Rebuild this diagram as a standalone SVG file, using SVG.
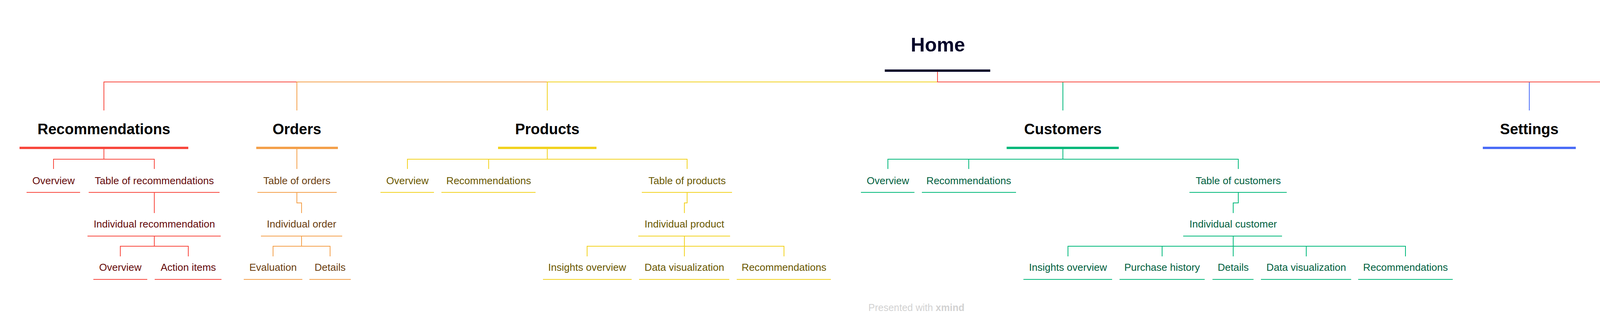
<svg xmlns="http://www.w3.org/2000/svg" width="4688" height="838" viewBox="0 0 4688 838">
<style>
  text { font-family: "Liberation Sans", Arial, sans-serif; text-anchor: middle; }
  .root { font-size: 50px; font-weight: bold; fill: #05052A; }
  .main { font-size: 38px; font-weight: bold; fill: #000000; }
  .sub { font-size: 26px; }
  .c { fill: none; stroke-width: 2; }
  .ul { stroke-width: 2; }
  .red { stroke: #F8473D; }
  .org { stroke: #F4A04A; }
  .yel { stroke: #F2D21F; }
  .grn { stroke: #00B87A; }
  .blu { stroke: #4A6CF7; }
  .pur { stroke: #4C48B5; }
  .tred { fill: #650A0A; }
  .torg { fill: #6B3E10; }
  .tyel { fill: #6A5800; }
  .tgrn { fill: #00603E; }
  .foot { font-size: 25px; fill: #D2D2D2; }
</style>
<rect width="4688" height="838" fill="#FFFFFF"/>

<g id="connectors">
  <!-- root to main topics -->
  <path class="c red" d="M2400 184 V210 H266 V283"/>
  <path class="c org" d="M2400 184 V210 H760 V283"/>
  <path class="c yel" d="M2400 184 V210 H1401 V283"/>
  <path class="c grn" d="M2400 184 V210 H2721 V283"/>
  <path class="c blu" d="M2400 184 V210 H3915 V283"/>
  <path class="c pur" d="M2400 184 V210 H4232 V283"/>
  <path class="c red" d="M2400 184 V210 H4534 V283"/>
  <!-- Recommendations -->
  <path class="c red" d="M266 382 V408 H137 V433"/>
  <path class="c red" d="M266 382 V408 H395 V433"/>
  <path class="c red" d="M395 493 V546"/>
  <path class="c red" d="M395 605 V631 H308 V657"/>
  <path class="c red" d="M395 605 V631 H482 V657"/>
  <!-- Orders -->
  <path class="c org" d="M760 382 V433"/>
  <path class="c org" d="M760 493 V520 H772 V546"/>
  <path class="c org" d="M772 605 V631 H699 V657"/>
  <path class="c org" d="M772 605 V631 H845 V657"/>
  <!-- Products -->
  <path class="c yel" d="M1401 382 V408 H1043 V433"/>
  <path class="c yel" d="M1401 382 V408 H1251 V433"/>
  <path class="c yel" d="M1401 382 V408 H1759 V433"/>
  <path class="c yel" d="M1759 493 V520 H1752 V546"/>
  <path class="c yel" d="M1752 605 V631 H1503 V657"/>
  <path class="c yel" d="M1752 605 V657"/>
  <path class="c yel" d="M1752 605 V631 H2007 V657"/>
  <!-- Customers -->
  <path class="c grn" d="M2721 382 V408 H2273 V433"/>
  <path class="c grn" d="M2721 382 V408 H2480 V433"/>
  <path class="c grn" d="M2721 382 V408 H3170 V433"/>
  <path class="c grn" d="M3170 493 V520 H3157 V546"/>
  <path class="c grn" d="M3157 605 V631 H2734 V657"/>
  <path class="c grn" d="M3157 605 V631 H2975 V657"/>
  <path class="c grn" d="M3157 605 V657"/>
  <path class="c grn" d="M3157 605 V631 H3344 V657"/>
  <path class="c grn" d="M3157 605 V631 H3598 V657"/>
</g>

<g id="home">
  <text class="root" x="2401" y="132">Home</text>
  <rect x="2265" y="178" width="270" height="6" fill="#05052A"/>
</g>

<g id="recommendations">
  <text class="main" x="266" y="344">Recommendations</text>
  <rect x="50" y="376" width="432" height="6" fill="#F8473D"/>
</g>
<g id="rec-overview">
  <text class="sub tred" x="137" y="472">Overview</text>
  <line class="ul red" x1="68" y1="493" x2="205" y2="493"/>
</g>
<g id="rec-table">
  <text class="sub tred" x="395" y="472">Table of recommendations</text>
  <line class="ul red" x1="227" y1="493" x2="562" y2="493"/>
</g>
<g id="rec-individual">
  <text class="sub tred" x="395" y="583">Individual recommendation</text>
  <line class="ul red" x1="224" y1="605" x2="565" y2="605"/>
</g>
<g id="rec-ind-overview">
  <text class="sub tred" x="308" y="694">Overview</text>
  <line class="ul red" x1="239" y1="716" x2="377" y2="716"/>
</g>
<g id="rec-action-items">
  <text class="sub tred" x="482" y="694">Action items</text>
  <line class="ul red" x1="396" y1="716" x2="567" y2="716"/>
</g>

<g id="orders">
  <text class="main" x="760" y="344">Orders</text>
  <rect x="656" y="376" width="209" height="6" fill="#F4A04A"/>
</g>
<g id="ord-table">
  <text class="sub torg" x="760" y="472">Table of orders</text>
  <line class="ul org" x1="659" y1="493" x2="862" y2="493"/>
</g>
<g id="ord-individual">
  <text class="sub torg" x="772" y="583">Individual order</text>
  <line class="ul org" x1="668" y1="605" x2="876" y2="605"/>
</g>
<g id="ord-evaluation">
  <text class="sub torg" x="699" y="694">Evaluation</text>
  <line class="ul org" x1="624" y1="716" x2="774" y2="716"/>
</g>
<g id="ord-details">
  <text class="sub torg" x="845" y="694">Details</text>
  <line class="ul org" x1="792" y1="716" x2="898" y2="716"/>
</g>

<g id="products">
  <text class="main" x="1401" y="344">Products</text>
  <rect x="1275" y="376" width="252" height="6" fill="#F2D21F"/>
</g>
<g id="prod-overview">
  <text class="sub tyel" x="1043" y="472">Overview</text>
  <line class="ul yel" x1="974" y1="493" x2="1111" y2="493"/>
</g>
<g id="prod-recommendations">
  <text class="sub tyel" x="1251" y="472">Recommendations</text>
  <line class="ul yel" x1="1130" y1="493" x2="1371" y2="493"/>
</g>
<g id="prod-table">
  <text class="sub tyel" x="1759" y="472">Table of products</text>
  <line class="ul yel" x1="1643" y1="493" x2="1874" y2="493"/>
</g>
<g id="prod-individual">
  <text class="sub tyel" x="1752" y="583">Individual product</text>
  <line class="ul yel" x1="1634" y1="605" x2="1869" y2="605"/>
</g>
<g id="prod-insights">
  <text class="sub tyel" x="1503" y="694">Insights overview</text>
  <line class="ul yel" x1="1390" y1="716" x2="1617" y2="716"/>
</g>
<g id="prod-dataviz">
  <text class="sub tyel" x="1752" y="694">Data visualization</text>
  <line class="ul yel" x1="1636" y1="716" x2="1867" y2="716"/>
</g>
<g id="prod-ind-recommendations">
  <text class="sub tyel" x="2007" y="694">Recommendations</text>
  <line class="ul yel" x1="1886" y1="716" x2="2127" y2="716"/>
</g>

<g id="customers">
  <text class="main" x="2721" y="344">Customers</text>
  <rect x="2577" y="376" width="287" height="6" fill="#00B87A"/>
</g>
<g id="cust-overview">
  <text class="sub tgrn" x="2273" y="472">Overview</text>
  <line class="ul grn" x1="2204" y1="493" x2="2341" y2="493"/>
</g>
<g id="cust-recommendations">
  <text class="sub tgrn" x="2480" y="472">Recommendations</text>
  <line class="ul grn" x1="2360" y1="493" x2="2601" y2="493"/>
</g>
<g id="cust-table">
  <text class="sub tgrn" x="3170" y="472">Table of customers</text>
  <line class="ul grn" x1="3045" y1="493" x2="3294" y2="493"/>
</g>
<g id="cust-individual">
  <text class="sub tgrn" x="3157" y="583">Individual customer</text>
  <line class="ul grn" x1="3029" y1="605" x2="3282" y2="605"/>
</g>
<g id="cust-insights">
  <text class="sub tgrn" x="2734" y="694">Insights overview</text>
  <line class="ul grn" x1="2620" y1="716" x2="2847" y2="716"/>
</g>
<g id="cust-purchase">
  <text class="sub tgrn" x="2975" y="694">Purchase history</text>
  <line class="ul grn" x1="2866" y1="716" x2="3084" y2="716"/>
</g>
<g id="cust-details">
  <text class="sub tgrn" x="3157" y="694">Details</text>
  <line class="ul grn" x1="3104" y1="716" x2="3209" y2="716"/>
</g>
<g id="cust-dataviz">
  <text class="sub tgrn" x="3344" y="694">Data visualization</text>
  <line class="ul grn" x1="3228" y1="716" x2="3459" y2="716"/>
</g>
<g id="cust-ind-recommendations">
  <text class="sub tgrn" x="3598" y="694">Recommendations</text>
  <line class="ul grn" x1="3477" y1="716" x2="3719" y2="716"/>
</g>

<g id="settings">
  <text class="main" x="3915" y="344">Settings</text>
  <rect x="3796" y="376" width="238" height="6" fill="#4A6CF7"/>
</g>
<g id="blocklist">
  <text class="main" x="4232" y="344">Blocklist</text>
  <rect x="4110" y="376" width="244" height="6" fill="#4C48B5"/>
</g>
<g id="profile">
  <text class="main" x="4534" y="344">Profile</text>
  <rect x="4430" y="376" width="208" height="6" fill="#F8473D"/>
</g>

<text class="foot" x="2346" y="797">Presented with <tspan font-weight="bold">xmind</tspan></text>
</svg>
